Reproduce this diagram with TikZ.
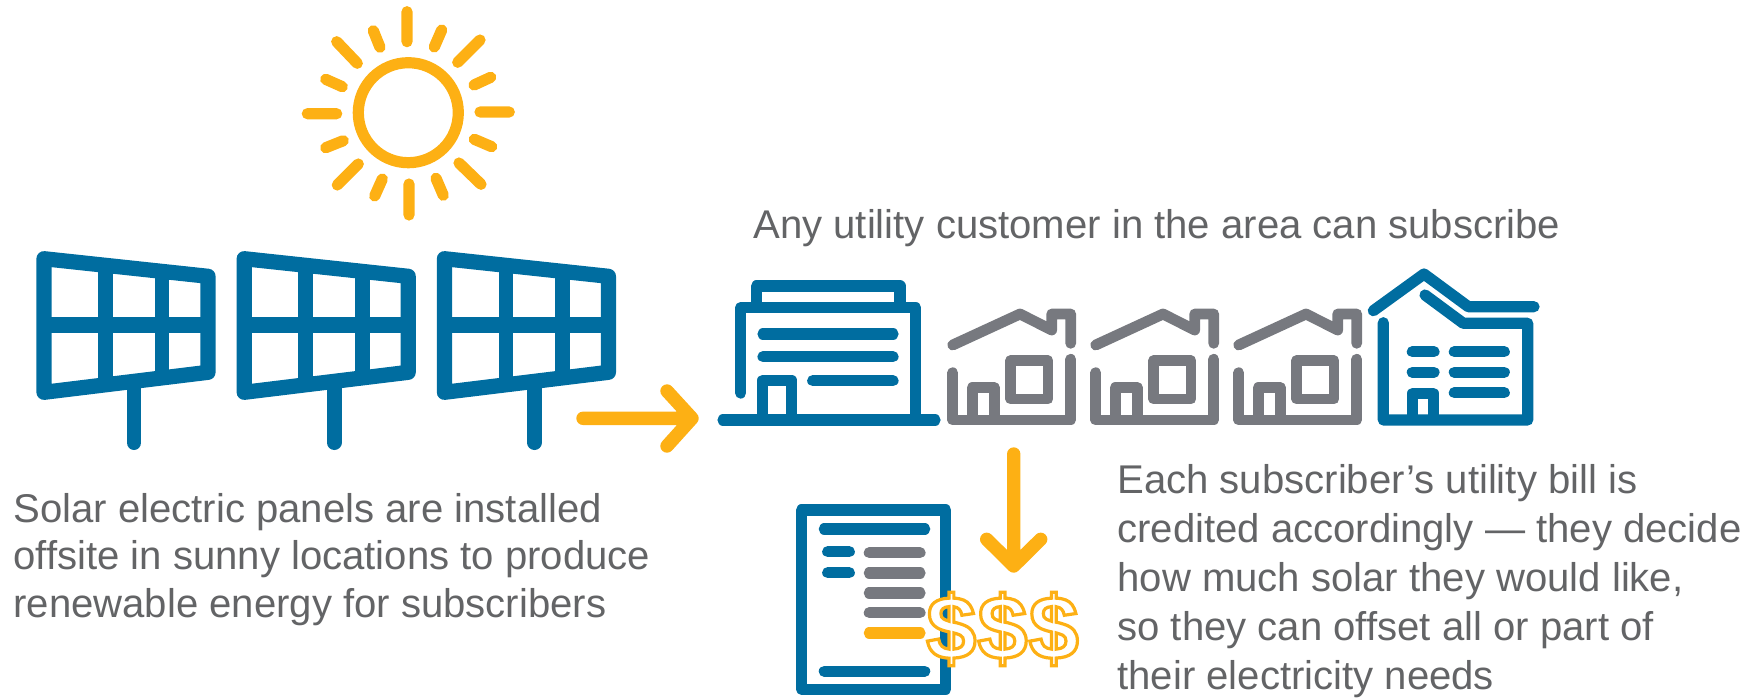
\documentclass[tikz,border=0pt]{standalone}
\usepackage{fontspec}
\setmainfont{Liberation Sans}
\definecolor{blu}{HTML}{006DA0}
\definecolor{gry}{HTML}{77797F}
\definecolor{yel}{HTML}{FDB014}
\definecolor{txt}{HTML}{636466}
\tikzset{
  ico/.style={line cap=round,line join=round,line width=5.6pt},
  blu/.style={ico,draw=blu},
  gry/.style={ico,draw=gry,line width=5.4pt},
  yel/.style={ico,draw=yel},
  arr/.style={yel,line width=6.7pt},
  lab/.style={text=txt,font=\fontsize{20.05}{23.85}\selectfont,align=left,inner sep=0pt,anchor=base west},
}
\begin{document}
\begin{tikzpicture}[x=0.5pt,y=-0.5pt]
\useasboundingbox (0,0) rectangle (1760,697);
% sun
\draw[yel] (408.3,112.7) circle[radius=50];
\draw[yel] (407,11.7)--(407,41.7) (480,112)--(509.3,112) (409,184)--(409,215) (307.3,113.7)--(336.7,113.7)
 (336.7,41.7)--(357.3,63.3) (480,40)--(457.7,62.3) (337.3,185)--(358.3,164) (481,184.3)--(459,163)
 (373.3,30.7)--(380,47.3) (441.7,30)--(434.3,47) (325.7,79.3)--(342.3,86.7) (490.7,77.3)--(474,85)
 (325.7,147.7)--(343.3,140.7) (491.7,146.7)--(474.3,139.3) (374.7,196)--(382.3,179) (443.3,195.3)--(436,178.3);
% panels
\foreach \dx in {0,200.2,400.4}{
\begin{scope}[xshift=\dx*0.5pt]
\draw[blu,line width=7.6pt] (44,258.7)--(208,276.3)--(208,372.3)--(44,392.3)--cycle;
\draw[blu,line cap=butt,line width=7.4pt] (105.6,265.3)--(105.6,384.8) (162,271.4)--(162,378);
\draw[blu,line cap=butt,line width=7.6pt] (44,325)--(208,325);
\draw[blu,line width=7.4pt] (134,382)--(134,442.6);
\end{scope}}
% arrows
\coordinate (a1s) at (583,418.3); \coordinate (a1t) at (692,418.3);
\draw[arr] (a1s)--(a1t) (667,391)--(a1t)--(667,446);
\coordinate (a2s) at (1013.7,454); \coordinate (a2t) at (1013.7,566);
\draw[arr] (a2s)--(a2t) (986.7,539.3)--(a2t)--(1040.7,539.3);
% office
\draw[blu] (723,420)--(935,420);
\draw[blu] (756.7,302)--(756.7,286)--(900,286)--(900,302);
\draw[blu] (740.7,393)--(740.7,307.7)--(915.7,307.7)--(915.7,420);
\draw[blu] (763,334)--(893,334) (763,356.7)--(893,356.7) (812.7,380.7)--(893,380.7);
\draw[blu,line cap=butt] (762.7,420)--(762.7,380.3)--(791.7,380.3)--(791.7,420);
% houses
\foreach \dx in {0,143,286}{
\begin{scope}[xshift=\dx*0.5pt]
\draw[gry] (952.7,345)--(1020,314)--(1051.7,330)--(1051.7,314)--(1070.7,314)--(1070.7,343.3);
\draw[gry] (952.7,372.7)--(952.7,420)--(1070.7,420)--(1070.7,359.3);
\draw[gry,line cap=butt] (972.3,420)--(972.3,387.7)--(994.3,387.7)--(994.3,420);
\draw[gry] (1010.7,360.7) rectangle (1048,399);
\end{scope}}
% right building
\draw[blu] (1373.3,310.7)--(1424,274)--(1468.3,306.7)--(1534,306.7);
\draw[blu] (1425,295)--(1463.3,323.3)--(1527.7,323.3)--(1527.7,420)--(1383.3,420)--(1383.3,322.7);
\draw[blu] (1412.3,351.7)--(1434,351.7) (1454.3,351.7)--(1504.3,351.7) (1412.3,372.3)--(1434,372.3) (1454.3,372.3)--(1504.3,372.3) (1454.3,392.7)--(1504.3,392.7);
\draw[blu,line cap=butt] (1412.7,420)--(1412.7,393.3)--(1433.3,393.3)--(1433.3,420);
% bill
\draw[blu] (801.7,510) rectangle (945.7,689.3);
\draw[blu] (824.3,529)--(924.7,529) (827.7,551.7)--(849.3,551.7) (827.7,572.7)--(849.3,572.7) (824.3,671.3)--(924.7,671.3);
\draw[gry,line width=5.6pt] (869.3,552.7)--(920,552.7) (869.3,573)--(920,573) (869.3,593)--(920,593) (869.3,612.7)--(920,612.7);
\draw[yel] (869.3,633)--(920,633);
\node[inner sep=0pt,text=white,font=\bfseries\fontsize{45}{45}\selectfont] (dollars) at (1002.5,629) {\special{pdf:code q 2 Tr 1.6 w 0.992 0.69 0.078 RG}\$\kern0.6pt\$\kern0.6pt\$\special{pdf:code Q}};
% text
\node[lab] (t1) at (753,238) {Any utility customer in the area can subscribe};
\node[lab] (t2) at (13,617.5) {Solar electric panels are installed\\offsite in sunny locations to produce\\renewable energy for subscribers};
\node[lab,font=\fontsize{20.05}{24.5}\selectfont] (t3) at (1117,689) {Each subscriber’s utility bill is\\credited accordingly — they decide\\how much solar they would like,\\so they can offset all or part of\\their electricity needs};
\end{tikzpicture}
\end{document}
